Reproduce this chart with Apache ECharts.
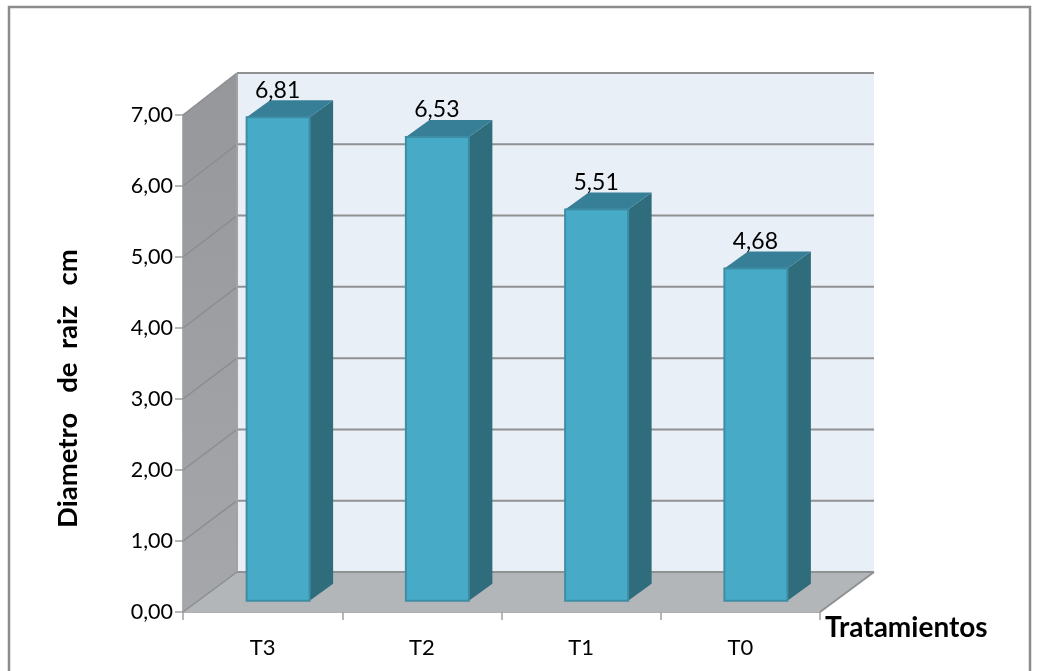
<!DOCTYPE html>
<html><head><meta charset="utf-8">
<style>html,body{margin:0;padding:0;background:#fff}#c{width:1049px;height:671px}</style>
<script src="https://cdn.jsdelivr.net/npm/echarts@6/dist/echarts.min.js"></script>
</head><body><div id="c"></div>
<script>
const categories = ['T3','T2','T1','T0'];
const values = [6.81,6.53,5.51,4.68];
const valueLabels = ['6,81','6,53','5,51','4,68'];
const yTicks = [0,1,2,3,4,5,6,7];
const xName = 'Tratamientos';
const yName = 'Diametro   de  raiz   cm';
const FONT = 'Lato';

const chart = echarts.init(document.getElementById('c'), null, {renderer:'canvas'});
const WALL_DX = 54, WALL_DY = 40, WALL_SCALE = 499/497, BAR_SHIFT_X = 15.5, BAR_SHIFT_Y = 11.3, BAR_W = 63, BAR_DX = 23.5, BAR_DY = 17;
const fmt = v => v.toFixed(2).replace('.', ',');

function renderWalls(params, api){
  const g = params.coordSys;
  const L = g.x, R = g.x + g.width, B = g.y + g.height;
  const yTop = api.coord([0, yTicks[yTicks.length-1]])[1];
  const backY = y => B - WALL_DY - (B - y) * WALL_SCALE;
  const topBack = backY(yTop);
  const children = [
    {type:'polygon', shape:{points:[[L+WALL_DX,topBack],[R+WALL_DX,topBack],[R+WALL_DX,B-WALL_DY],[L+WALL_DX,B-WALL_DY]]}, style:{fill:'#e9eff6'}},
    {type:'polygon', shape:{points:[[L,B],[L+WALL_DX,B-WALL_DY],[L+WALL_DX,topBack],[L,yTop]]},
      style:{fill:new echarts.graphic.LinearGradient(0,0,0,1,[{offset:0,color:'#95979b'},{offset:1,color:'#a5a7aa'}])}},
    {type:'polygon', shape:{points:[[L,B],[R,B],[R+WALL_DX,B-WALL_DY],[L+WALL_DX,B-WALL_DY]]}, style:{fill:'#b2b6b9'}},
  ];
  const line = (a,b,w,c) => ({type:'line', shape:{x1:a[0],y1:a[1],x2:b[0],y2:b[1]}, style:{stroke:c||'#8f9193',lineWidth:w||2}});
  yTicks.forEach(v=>{
    const y = api.coord([0,v])[1];
    const by = backY(y);
    children.push(line([L,y],[L+WALL_DX,by],1.5,'#8b8d90'));
    children.push(line([L+WALL_DX,by],[R+WALL_DX,by],2));
  });
  children.push(line([R,B],[R+WALL_DX,B-WALL_DY],2));
  children.push(line([L+WALL_DX,B-WALL_DY],[L+WALL_DX,topBack],2,'#a0a2a5'));
  return {type:'group', children};
}

function renderBar(params, api){
  const i = api.value(0), v = api.value(1);
  const c = api.coord([i,v]), z = api.coord([i,0]);
  const xl = c[0] + BAR_SHIFT_X - BAR_W/2, xr = xl + BAR_W;
  const yb = z[1] - BAR_SHIFT_Y, yt = yb - (z[1]-c[1]);
  const stroke = '#3d8da5';
  return {type:'group', children:[
    {type:'polygon', shape:{points:[[xr,yb],[xr+BAR_DX,yb-BAR_DY],[xr+BAR_DX,yt-BAR_DY],[xr,yt]]}, style:{fill:'#2f6d7d'}},
    {type:'polygon', shape:{points:[[xl,yt],[xr,yt],[xr+BAR_DX,yt-BAR_DY],[xl+BAR_DX,yt-BAR_DY]]}, style:{fill:'#367f97'}},
    {type:'rect', shape:{x:xl,y:yt,width:BAR_W,height:yb-yt}, style:{fill:'#47abc7',stroke,lineWidth:2}},
    {type:'text', style:{text:valueLabels[i],x:xl+31,y:yt-27,align:'center',verticalAlign:'middle',fill:'#000',font:'23px '+FONT}}
  ]};
}

chart.setOption({
  animation:false,
  backgroundColor:'#fff',
  graphic:[{type:'rect',silent:true,z:-10,shape:{x:9,y:7,width:1021,height:680},style:{fill:'none',stroke:'#8c8c8c',lineWidth:2.5}}],
  grid:{left:183,top:115,width:637,height:497,containLabel:false},
  xAxis:{type:'category',data:categories,
    name:xName,nameLocation:'end',nameGap:5,
    nameTextStyle:{fontFamily:FONT,fontSize:28,fontWeight:'bold',color:'#000',verticalAlign:'top',align:'left',padding:[2,0,0,0]},
    axisLine:{lineStyle:{color:'#b0b0b0',width:2}},
    axisTick:{show:true,length:8,alignWithLabel:false,lineStyle:{color:'#a0a0a0',width:1.5}},
    axisLabel:{fontFamily:FONT,fontSize:22,color:'#000',margin:25},
    splitLine:{show:false}},
  yAxis:{type:'value',min:0,max:7,interval:1,
    name:yName,nameLocation:'middle',nameGap:101,nameRotate:90,
    nameTextStyle:{fontFamily:FONT,fontSize:27.5,fontWeight:'bold',color:'#000',padding:[0,50,0,0]},
    axisLine:{show:true,lineStyle:{color:'#b0b0b0',width:2}},
    axisTick:{show:true,length:8,lineStyle:{color:'#a0a0a0',width:1.5}},
    axisLabel:{fontFamily:FONT,fontSize:21.5,color:'#000',margin:10,padding:[2,0,0,0],formatter:fmt},
    splitLine:{show:false}},
  series:[
    {type:'custom',coordinateSystem:'cartesian2d',clip:false,z:1,silent:true,renderItem:renderWalls,data:[[0,0]]},
    {type:'custom',coordinateSystem:'cartesian2d',clip:false,z:2,silent:true,renderItem:renderBar,
     encode:{x:0,y:1},data:values.map((v,i)=>[i,v])}
  ]
});
</script></body></html>
